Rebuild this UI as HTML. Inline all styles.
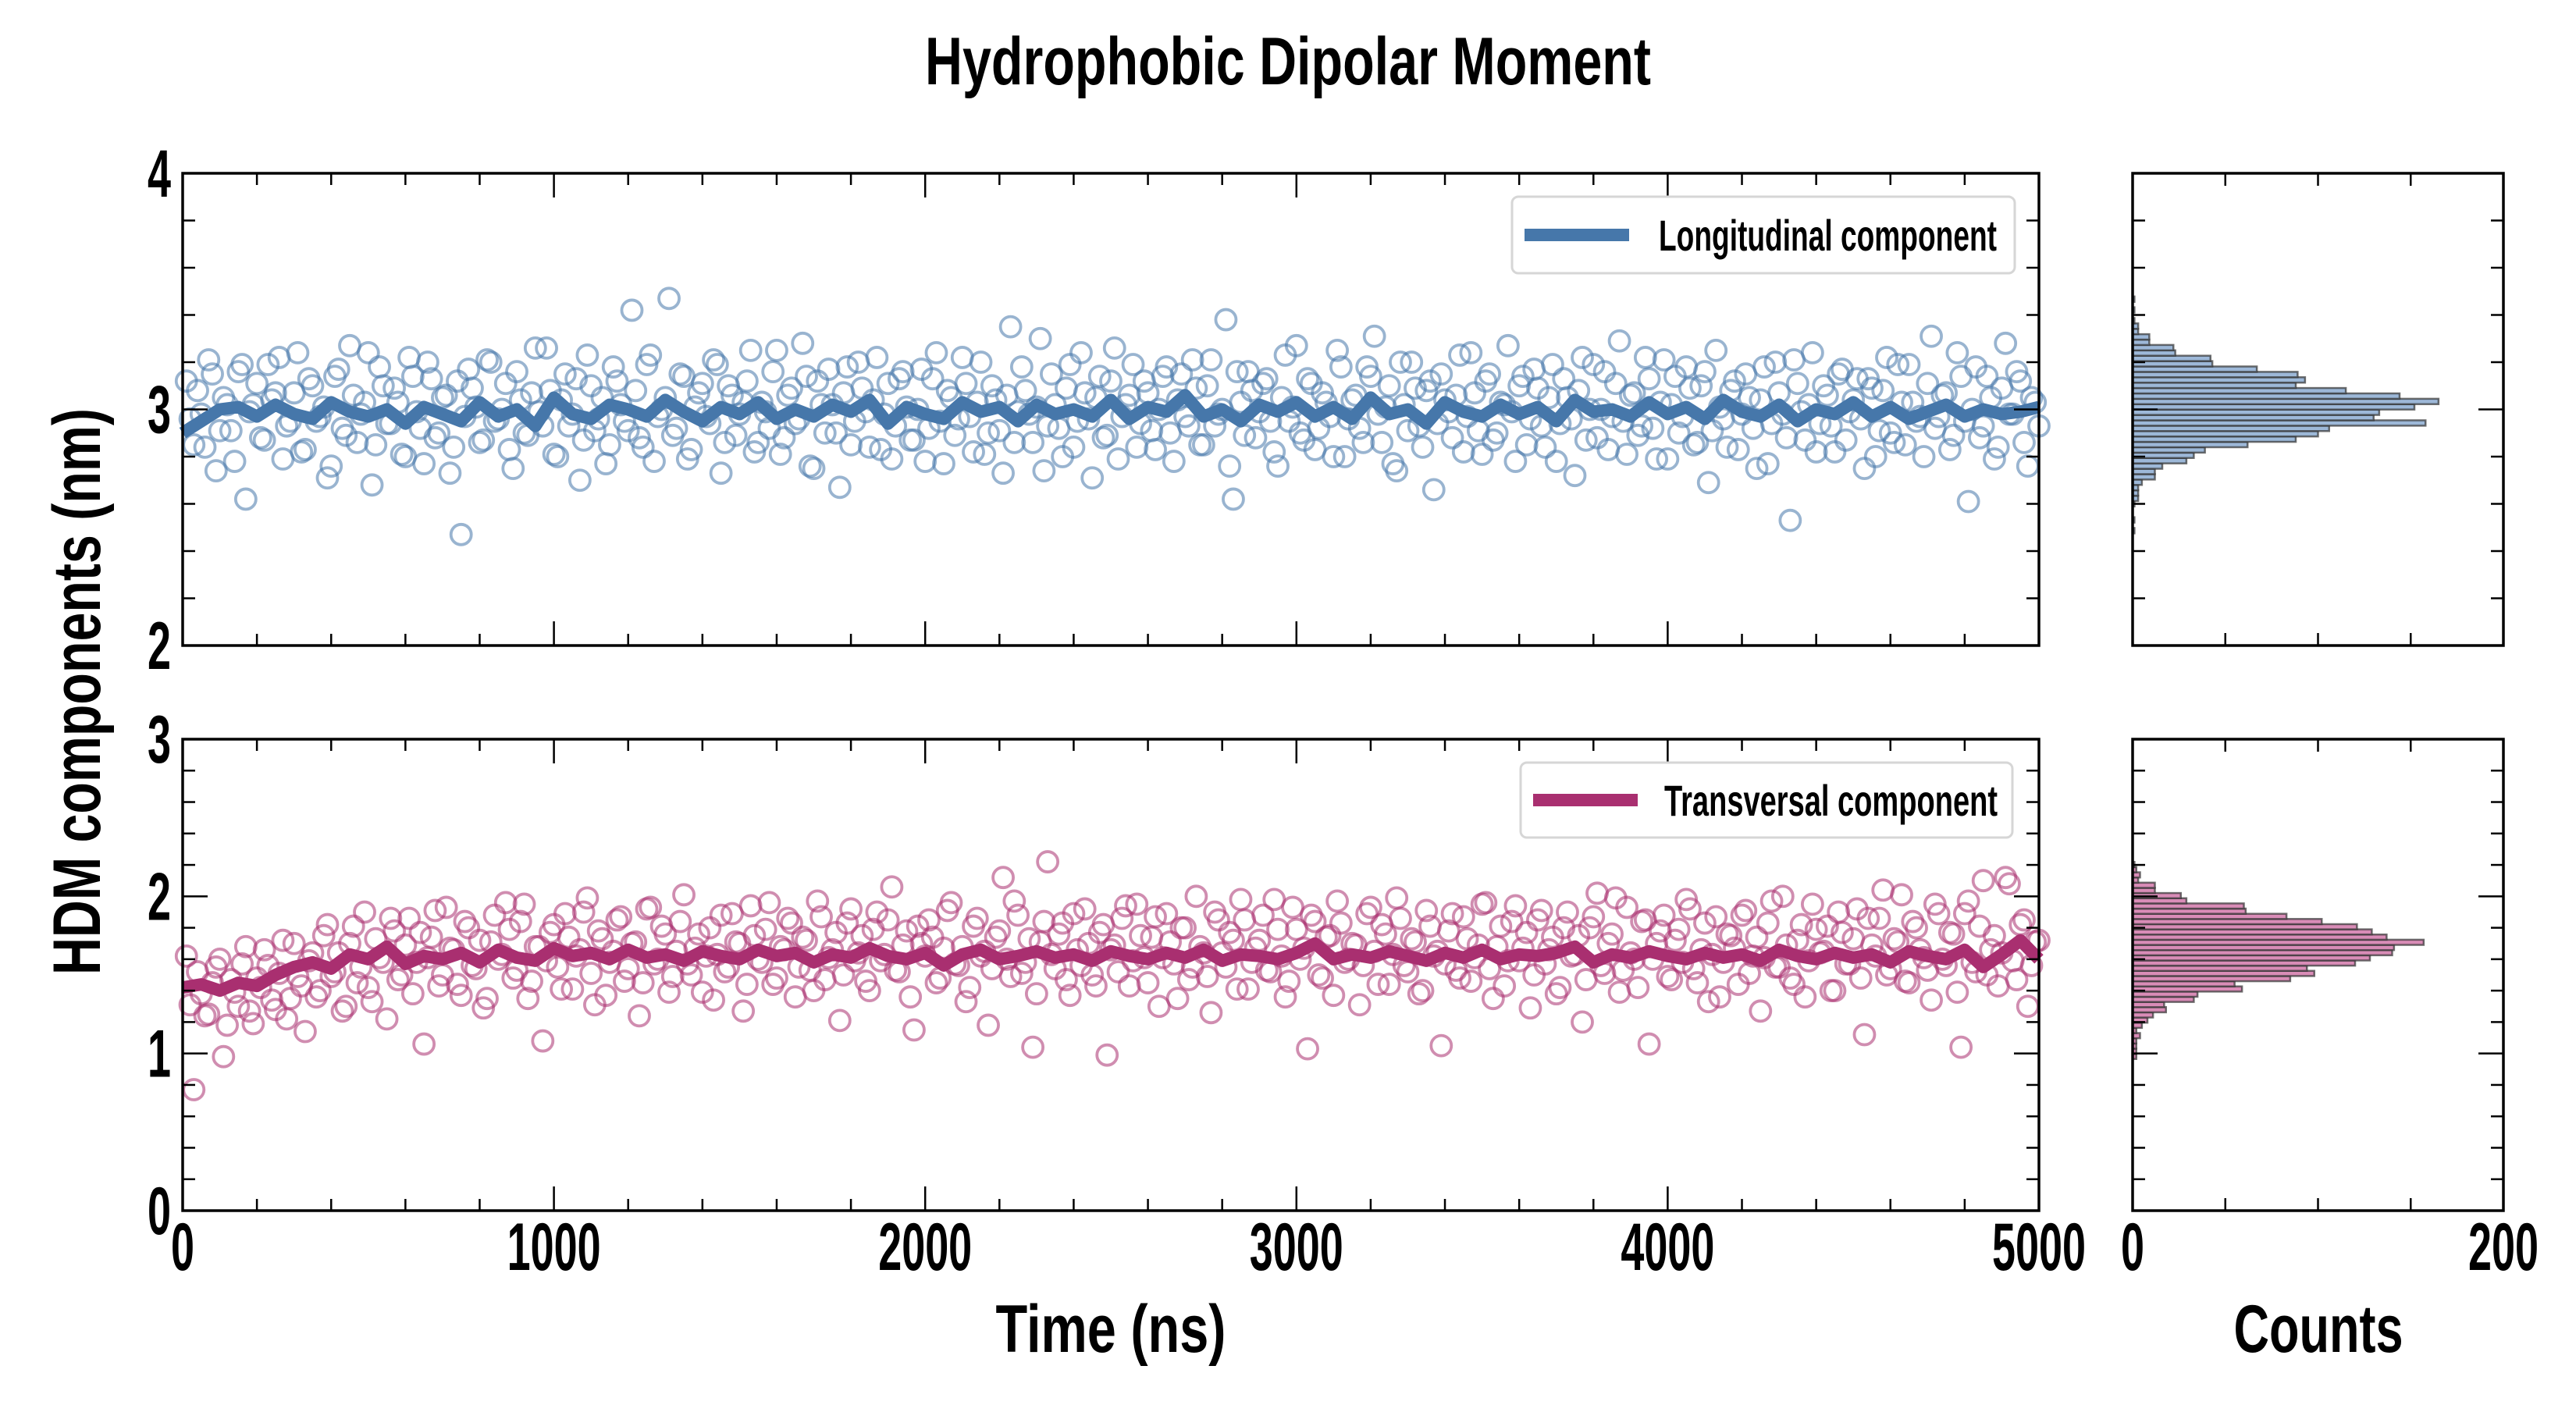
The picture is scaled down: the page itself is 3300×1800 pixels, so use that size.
<!DOCTYPE html>
<html><head><meta charset="utf-8"><style>
html,body{margin:0;padding:0;background:#fff;}
svg{display:block;}
text{font-family:"Liberation Sans Narrow","Liberation Sans",sans-serif;font-weight:bold;fill:#000;}
</style></head><body>
<svg id="fig" width="3300" height="1800" viewBox="0 0 3300 1800" xmlns="http://www.w3.org/2000/svg">
<rect width="3300" height="1800" fill="#fff"/>
<text x="1650" y="108" text-anchor="middle" font-size="86" textLength="930" lengthAdjust="spacingAndGlyphs">Hydrophobic Dipolar Moment</text>
<text transform="translate(128,886) rotate(-90)" text-anchor="middle" font-size="86" textLength="726" lengthAdjust="spacingAndGlyphs">HDM components (nm)</text>
<text x="1423" y="1732" text-anchor="middle" font-size="86" textLength="295" lengthAdjust="spacingAndGlyphs">Time (ns)</text>
<text x="2970" y="1732" text-anchor="middle" font-size="86" textLength="217" lengthAdjust="spacingAndGlyphs">Counts</text>
<g id="layer"></g>
</svg>
<script>
// ---- data ----
const timeStep = 20;
const longScatter = [3.12,2.85,2.98,3.21,2.74,3.05,2.91,3.16,2.62,3.02,
2.88,3.19,3.07,2.79,2.95,3.24,2.83,3.10,2.97,2.71,
3.14,2.92,3.27,2.86,3.03,2.68,3.18,2.94,3.09,2.81,
3.22,2.99,2.77,3.13,2.90,3.06,2.84,2.47,3.17,3.01,
2.87,3.20,2.96,3.11,2.75,3.04,2.89,3.26,2.93,3.08,
2.80,3.15,2.98,2.70,3.23,2.91,3.05,2.85,3.12,2.95,
3.42,2.88,3.19,2.78,3.00,3.47,2.92,3.14,2.83,3.07,
2.97,3.21,2.73,3.10,2.89,3.03,3.25,2.86,2.99,3.16,
2.81,3.06,2.94,3.28,2.76,3.12,2.90,3.02,2.67,3.18,
2.95,3.09,2.84,3.22,2.98,2.79,3.13,3.01,2.87,3.17,
2.92,3.24,2.77,3.05,2.96,3.11,2.82,3.20,2.90,3.04,
2.73,3.35,2.99,3.08,2.86,3.30,2.93,3.02,2.80,3.19,
2.95,3.07,2.71,3.14,2.89,3.26,2.97,3.06,2.84,3.12,
2.91,3.00,3.18,2.78,3.15,2.93,3.09,2.85,3.21,2.98,
3.38,2.62,3.03,3.16,2.88,3.11,2.95,2.76,3.23,3.01,
2.90,3.13,2.83,3.07,2.97,3.25,2.80,3.04,2.92,3.18,
3.31,2.86,3.10,2.74,3.02,3.20,2.93,3.08,2.66,3.15,
2.99,3.06,2.82,3.24,2.91,3.12,2.87,3.03,3.27,2.78,
3.14,2.96,3.09,2.84,3.19,2.94,3.05,2.72,3.22,3.00,
2.88,3.16,2.97,3.29,2.81,3.07,2.93,3.13,2.79,3.21,
3.02,2.90,3.18,2.85,3.10,2.69,3.25,2.96,3.08,2.83,
3.15,2.92,3.04,2.77,3.20,2.98,2.53,3.11,2.87,3.24,
2.94,3.06,2.82,3.17,2.99,3.13,2.75,3.09,2.91,3.22,
2.86,3.03,3.19,2.95,2.80,3.31,2.97,3.07,2.89,3.14,
2.61,3.18,2.93,3.05,2.84,3.28,2.98,3.12,2.76,3.03];
const longScatterB = [2.96,3.08,2.84,3.15,2.91,3.02,2.78,3.19,2.99,3.11,
2.87,3.04,3.22,2.93,3.07,2.82,3.13,2.95,3.01,2.76,
3.17,2.89,3.06,2.98,3.24,2.85,3.10,2.94,3.03,2.80,
3.14,2.92,3.20,2.88,3.05,2.73,3.12,2.97,3.09,2.86,
3.21,2.95,3.00,2.83,3.16,2.90,3.07,2.99,3.26,2.81,
3.04,2.93,3.13,2.87,3.10,2.96,2.77,3.18,3.02,2.91,
3.08,2.84,3.23,2.97,3.05,2.89,3.15,2.79,3.01,3.11,
2.94,3.19,2.86,3.06,2.98,3.12,2.82,3.03,2.92,3.25,
2.88,3.09,2.96,3.14,2.75,3.02,3.17,2.90,3.07,2.85,
3.20,2.99,3.04,2.83,3.11,2.93,3.16,2.87,3.00,2.78,
3.13,2.95,3.08,2.89,3.22,2.97,3.03,2.81,3.10,2.91,
3.06,2.86,3.18,2.98,3.01,2.74,3.15,2.92,3.09,2.84,
3.24,2.96,3.05,2.88,3.12,2.79,3.02,3.19,2.94,3.07,
2.83,3.14,2.90,3.04,2.97,3.21,2.85,3.10,2.93,3.00,
2.76,3.16,2.89,3.08,2.99,3.13,2.82,3.05,2.95,3.27,
2.87,3.11,2.92,3.03,2.80,3.18,2.96,3.06,2.86,3.14,
2.98,3.01,2.77,3.20,2.91,3.09,2.84,3.12,2.94,3.04,
2.88,3.23,2.97,3.07,2.81,3.15,2.90,3.02,2.99,3.10,
2.85,3.17,2.93,3.05,2.78,3.13,2.96,3.08,2.87,3.19,
3.00,2.83,3.11,2.95,3.06,2.89,3.22,2.92,3.03,2.79,
3.14,2.97,3.09,2.86,3.16,2.91,3.01,2.84,3.12,2.98,
3.05,2.75,3.18,2.94,3.07,2.88,3.21,2.99,3.02,2.82,
3.10,2.93,3.15,2.87,3.04,2.96,3.13,2.80,3.08,2.90,
3.19,2.85,3.03,2.97,3.11,2.92,3.06,2.83,3.24,2.95,
3.00,2.88,3.14,2.79,3.09,2.98,3.16,2.86,3.05,2.93];
const transScatter = [1.62,0.77,1.38,1.25,1.55,0.98,1.47,1.30,1.68,1.19,
1.42,1.56,1.28,1.72,1.35,1.49,1.14,1.64,1.40,1.82,
1.52,1.27,1.70,1.45,1.90,1.33,1.61,1.22,1.78,1.50,
1.86,1.58,1.06,1.74,1.43,1.93,1.66,1.37,1.80,1.54,
1.29,1.71,1.60,1.96,1.48,1.84,1.35,1.68,1.08,1.77,
1.55,1.89,1.41,1.66,1.99,1.31,1.73,1.58,1.85,1.46,
1.70,1.24,1.92,1.57,1.81,1.39,1.65,2.01,1.50,1.76,
1.62,1.34,1.88,1.55,1.71,1.27,1.94,1.60,1.79,1.44,
1.68,1.86,1.36,1.74,1.53,1.97,1.47,1.66,1.21,1.83,
1.59,1.75,1.40,1.90,1.63,2.06,1.52,1.78,1.15,1.70,
1.85,1.45,1.67,1.96,1.56,1.33,1.81,1.62,1.18,1.74,
2.12,1.49,1.88,1.58,1.04,1.71,2.22,1.54,1.83,1.37,
1.66,1.92,1.50,1.77,0.99,1.69,1.86,1.43,1.95,1.61,
1.74,1.30,1.89,1.57,1.80,1.47,2.00,1.64,1.26,1.85,
1.55,1.72,1.98,1.41,1.67,1.88,1.52,1.79,1.36,1.93,
1.60,1.03,1.84,1.48,1.75,1.97,1.58,1.70,1.31,1.89,
1.65,1.82,1.44,1.99,1.56,1.73,1.38,1.91,1.62,1.05,
1.78,1.53,1.87,1.46,1.69,1.96,1.35,1.81,1.59,1.94,
1.67,1.29,1.85,1.57,1.74,1.42,1.90,1.63,1.20,1.80,
2.02,1.51,1.76,1.39,1.93,1.60,1.84,1.06,1.70,1.88,
1.47,1.79,1.98,1.54,1.66,1.33,1.87,1.58,1.75,1.44,
1.91,1.62,1.27,1.83,1.55,2.00,1.48,1.72,1.36,1.95,
1.64,1.81,1.40,1.77,1.57,1.92,1.12,1.69,1.86,1.50,
1.73,2.01,1.45,1.80,1.61,1.34,1.89,1.56,1.76,1.04,
1.97,1.52,2.10,1.66,1.43,2.12,1.59,1.82,1.30,1.71];
const transScatterB = [1.31,1.52,1.24,1.45,1.60,1.18,1.39,1.57,1.27,1.48,
1.66,1.34,1.51,1.22,1.70,1.43,1.59,1.36,1.75,1.49,
1.64,1.30,1.81,1.55,1.42,1.73,1.58,1.86,1.47,1.69,
1.38,1.77,1.61,1.91,1.50,1.67,1.44,1.84,1.56,1.72,
1.35,1.88,1.63,1.79,1.53,1.95,1.46,1.68,1.59,1.82,
1.41,1.74,1.62,1.90,1.51,1.78,1.37,1.65,1.87,1.54,
1.71,1.45,1.93,1.60,1.76,1.49,1.84,1.57,1.67,1.39,
1.80,1.63,1.52,1.89,1.70,1.44,1.75,1.58,1.96,1.48,
1.66,1.83,1.55,1.72,1.40,1.87,1.61,1.77,1.50,1.92,
1.64,1.46,1.79,1.59,1.85,1.53,1.69,1.36,1.81,1.62,
1.74,1.48,1.91,1.57,1.68,1.42,1.86,1.65,1.54,1.78,
1.60,1.97,1.51,1.73,1.38,1.84,1.63,1.76,1.47,1.89,
1.56,1.70,1.43,1.82,1.66,1.52,1.94,1.59,1.75,1.45,
1.87,1.61,1.71,1.35,1.80,1.55,1.68,1.49,1.90,1.64,
1.77,1.41,1.85,1.58,1.72,1.53,1.98,1.62,1.46,1.79,
1.67,1.88,1.50,1.74,1.37,1.83,1.60,1.69,1.56,1.93,
1.44,1.76,1.63,1.86,1.52,1.71,1.40,1.81,1.65,1.57,
1.89,1.48,1.73,1.61,1.95,1.54,1.68,1.43,1.84,1.59,
1.77,1.50,1.91,1.66,1.38,1.80,1.62,1.75,1.47,1.87,
1.56,1.70,1.99,1.53,1.64,1.42,1.85,1.60,1.78,1.49,
1.72,1.58,1.92,1.45,1.83,1.63,1.36,1.76,1.67,1.88,
1.51,1.74,1.61,1.97,1.55,1.69,1.44,1.82,1.59,1.79,
1.65,1.40,1.90,1.57,1.73,1.48,1.86,1.62,2.04,1.54,
1.71,1.46,1.84,1.66,1.53,1.95,1.60,1.77,1.39,1.89,
1.58,1.81,1.50,1.75,1.64,2.08,1.47,1.85,1.56,1.72];
const meanStep = 50;
const longMean = [2.90,2.95,3.00,3.01,2.97,3.02,2.98,2.96,3.03,2.99,2.97,3.00,2.94,3.01,2.98,2.95,3.03,2.97,3.00,2.93,3.05,2.98,2.96,3.02,3.00,2.97,3.04,2.99,2.95,3.01,2.98,3.03,2.96,3.00,2.97,3.02,2.99,3.04,2.94,3.01,2.98,2.96,3.03,2.99,3.01,2.95,3.02,2.98,3.00,2.97,3.04,2.96,3.01,2.99,3.06,2.97,3.00,2.95,3.02,2.99,3.03,2.97,3.01,2.96,3.05,2.98,3.00,2.94,3.03,2.99,2.97,3.02,2.98,3.01,2.95,3.04,2.99,3.00,2.97,3.03,2.98,3.01,2.96,3.04,2.99,2.97,3.02,2.95,3.00,2.98,3.03,2.97,3.01,2.96,2.99,3.02,2.97,3.00,2.98,2.99,3.01];
const transMean = [1.42,1.44,1.40,1.45,1.43,1.50,1.55,1.58,1.54,1.63,1.60,1.68,1.57,1.62,1.60,1.64,1.58,1.66,1.61,1.59,1.67,1.62,1.64,1.60,1.66,1.61,1.63,1.59,1.65,1.62,1.60,1.66,1.62,1.64,1.58,1.63,1.61,1.67,1.62,1.60,1.64,1.56,1.63,1.66,1.60,1.62,1.65,1.61,1.63,1.59,1.65,1.62,1.60,1.64,1.61,1.66,1.59,1.63,1.62,1.60,1.64,1.70,1.60,1.63,1.61,1.65,1.62,1.59,1.64,1.61,1.66,1.60,1.63,1.62,1.64,1.68,1.58,1.63,1.61,1.65,1.62,1.60,1.64,1.61,1.63,1.59,1.66,1.62,1.60,1.64,1.61,1.63,1.58,1.65,1.62,1.60,1.66,1.55,1.63,1.72,1.60];
const longHistStart = 2.475, longHistWidth = 0.0228;
const longHistCounts = [1,0,1,0,0,1,3,3,3,5,12,12,16,29,33,39,62,88,100,106,158,130,133,152,165,144,115,88,93,89,67,43,42,23,22,9,9,3,3,1,0,1,0,1];
const transHistStart = 0.965, transHistWidth = 0.033;
const transHistCounts = [2,2,2,2,4,2,5,8,11,18,17,33,35,59,55,85,98,94,120,128,140,141,157,137,129,121,102,83,61,60,29,26,12,12,3,4,2,1];
const timeTicks = [0,1000,2000,3000,4000,5000];
const countTicks = [0,200];
const longTicks = [2,3,4];
const transTicks = [0,1,2,3];

// ---- layout ----
const NS = "http://www.w3.org/2000/svg";
const L = document.getElementById('layer');
const MX0 = 234, MX1 = 2612, HX0 = 2732, HX1 = 3207;
const P1 = {y0:222, y1:827, vmin:2, vmax:4};
const P2 = {y0:947, y1:1551, vmin:0, vmax:3};
function xT(t){ return MX0 + t/5000*(MX1-MX0); }
function xC(c){ return HX0 + c/200*(HX1-HX0); }
function yV(P,v){ return P.y1 - (v-P.vmin)/(P.vmax-P.vmin)*(P.y1-P.y0); }
function mk(tag, attrs, parent){
  const e = document.createElementNS(NS, tag);
  for (const k in attrs) e.setAttribute(k, attrs[k]);
  (parent||L).appendChild(e); return e;
}
function line(x1,y1,x2,y2,w,parent){ return mk('line',{x1:x1,y1:y1,x2:x2,y2:y2,stroke:'#000','stroke-width':w},parent); }
function label(x,y,txt,anchor,name,parent){
  const s = String(txt);
  const t = mk('text',{x:x,y:y,'text-anchor':anchor,'font-size':86,textLength:30*s.length,lengthAdjust:'spacingAndGlyphs'},parent);
  
  
  t.textContent = s;
  return t;
}

function drawPanel(P, scatter, scatterB, mean, col, key, ticks){
  const g = mk('g',{});
  
  
  const sg = mk('g',{fill:'none',stroke:col,'stroke-width':3.8,'stroke-opacity':0.55},g);
  
  
  scatter.forEach((v,i)=>{
    const c = mk('circle',{cx:xT(10+i*timeStep),cy:yV(P,v),r:13},sg);
    
    
  });
  scatterB.forEach((v,i)=>{
    const c = mk('circle',{cx:xT(20+i*timeStep),cy:yV(P,v),r:13},sg);
    
    
  });
  const pts = mean.map((v,i)=>xT(i*meanStep).toFixed(1)+','+yV(P,v).toFixed(1)).join(' ');
  const pl = mk('polyline',{points:pts,fill:'none',stroke:col,'stroke-width':16,'stroke-linejoin':'round'},g);
  
  
  for (let t=0;t<=5000;t+=200){
    const len = t%1000===0 ? 31 : 15;
    line(xT(t),P.y1,xT(t),P.y1-len,2.5,g);
    line(xT(t),P.y0,xT(t),P.y0+len,2.5,g);
  }
  const span = P.vmax-P.vmin;
  for (let k=0;k<=span*5;k++){
    const v = P.vmin + k*0.2;
    const len = (k%5===0) ? 32 : 16;
    line(MX0,yV(P,v),MX0+len,yV(P,v),2.5,g);
    line(MX1,yV(P,v),MX1-len,yV(P,v),2.5,g);
  }
  const fr = mk('rect',{x:MX0,y:P.y0,width:MX1-MX0,height:P.y1-P.y0,fill:'none',stroke:'#000','stroke-width':3.5},g);
  
  
  ticks.forEach(v=>{ label(219,yV(P,v)+30,v,'end',key+'-y-tick-label',g); });
}
function drawHist(P, start, width, counts, fill, key){
  const g = mk('g',{});
  
  
  counts.forEach((c,i)=>{
    if (c<=0) return;
    const lo = start + i*width, hi = lo+width;
    const r = mk('rect',{x:HX0,y:yV(P,hi),width:xC(c)-HX0,height:yV(P,lo)-yV(P,hi),fill:fill,stroke:'#333','stroke-opacity':0.7,'stroke-width':2.5},g);
    
    
  });
  [50,100,150].forEach(c=>{ line(xC(c),P.y1,xC(c),P.y1-16,2.5,g); line(xC(c),P.y0,xC(c),P.y0+16,2.5,g); });
  const span = P.vmax-P.vmin;
  for (let k=0;k<=span*5;k++){
    const v = P.vmin + k*0.2;
    const len = (k%5===0) ? 32 : 16;
    line(HX0,yV(P,v),HX0+len,yV(P,v),2.5,g);
    line(HX1,yV(P,v),HX1-len,yV(P,v),2.5,g);
  }
  const fr = mk('rect',{x:HX0,y:P.y0,width:HX1-HX0,height:P.y1-P.y0,fill:'none',stroke:'#000','stroke-width':3.5},g);
  
  
}
function legend(x,y,w,h,col,text,key,tx0,tx1){
  const g = mk('g',{});
  
  
  mk('rect',{x:x,y:y,width:w,height:h,rx:8,fill:'#fff','fill-opacity':0.85,stroke:'#d6d6d6','stroke-width':3},g);
  const ln = mk('line',{x1:x+16,y1:y+h/2,x2:x+150,y2:y+h/2,stroke:col,'stroke-width':16},g);
  
  
  const t = mk('text',{x:tx0,y:y+h/2+20,'font-size':56,textLength:tx1-tx0,lengthAdjust:'spacingAndGlyphs'},g);
  
  
  t.textContent = text;
}

drawPanel(P1, longScatter, longScatterB, longMean, '#4677aa', 'longitudinal', longTicks);
drawPanel(P2, transScatter, transScatterB, transMean, '#a92f70', 'transversal', transTicks);
drawHist(P1, longHistStart, longHistWidth, longHistCounts, '#9db8d8', 'longitudinal');
drawHist(P2, transHistStart, transHistWidth, transHistCounts, '#d98cb7', 'transversal');
legend(1937,252,644,98,'#4677aa','Longitudinal component','longitudinal',2125,2558);
legend(1948,977,630,96,'#a92f70','Transversal component','transversal',2132,2559);

timeTicks.forEach(t=>{ label(xT(t),1627,t,'middle','x-tick-label'); });
countTicks.forEach(c=>{ label(xC(c),1627,c,'middle','count-tick-label'); });
</script>
</body></html>
